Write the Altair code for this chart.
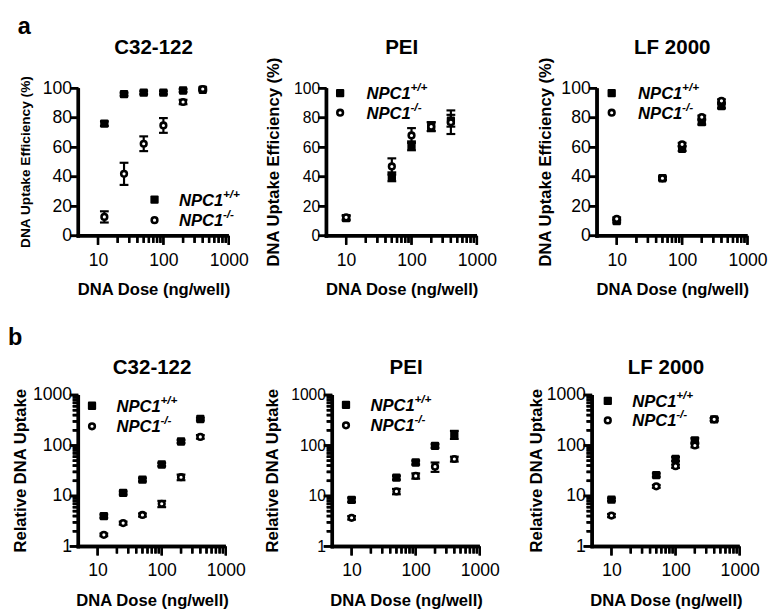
import math
import altair as alt
import pandas as pd

FONT = "Liberation Sans"

# ---------------- data ----------------
doses_c32 = [12.5, 25, 50, 100, 200, 400]
doses_other = [10, 50, 100, 200, 400]

# (a) DNA uptake efficiency (%)
a_c32_wt = [76, 96, 97, 97, 98.5, 99]
a_c32_wt_err = [1.5, 1, 1, 1, 1, 0.5]
a_c32_ko = [12.8, 42, 62.4, 74.8, 90.7, 99.5]
a_c32_ko_err = [3.8, 7.5, 5, 5, 1.5, 1]

a_pei_wt = [12, 40, 61, 74, 78]
a_pei_wt_err = [1.5, 3, 3, 3, 4]
a_pei_ko = [12.5, 47, 68, 74, 77]
a_pei_ko_err = [1.5, 5.5, 5, 3, 8]

a_lf_wt = [10, 39, 59, 77, 88]
a_lf_wt_err = [1, 1, 1.5, 1.5, 1.5]
a_lf_ko = [11.5, 39, 62, 80.5, 91.5]
a_lf_ko_err = [1, 1, 1, 1, 1]

# (b) relative DNA uptake
b_c32_wt = [4.0, 11.5, 21, 42, 120, 335]
b_c32_wt_err = [0.3, 0.8, 1.5, 3, 8, 20]
b_c32_ko = [1.7, 2.9, 4.2, 7.0, 23.5, 148]
b_c32_ko_err = [0.1, 0.2, 0.3, 1.0, 3, 12]

b_pei_wt = [8.4, 23, 46, 98, 165]
b_pei_wt_err = [0.8, 2, 4, 8, 30]
b_pei_ko = [3.7, 12.3, 25, 38, 54]
b_pei_ko_err = [0.3, 1.5, 3, 8, 6]

b_lf_wt = [8.5, 26, 54, 126, 330]
b_lf_wt_err = [0.5, 2, 5, 12, 20]
b_lf_ko = [4.1, 15.5, 39, 100, 330]
b_lf_ko_err = [0.3, 1, 3, 8, 20]

# axis ranges and tick positions
x_range = [5, 1000]
x_major = [10, 100, 1000]
x_minor = [20, 30, 40, 50, 60, 70, 80, 90, 200, 300, 400, 500, 600, 700, 800, 900]
y_lin_range = [0, 100]
y_lin_ticks = [0, 20, 40, 60, 80, 100]
y_log_range = [1, 1000]
y_log_major = [1, 10, 100, 1000]
y_log_minor = [2, 3, 4, 5, 6, 7, 8, 9, 20, 30, 40, 50, 60, 70, 80, 90,
               200, 300, 400, 500, 600, 700, 800, 900]

legend_labels = ["NPC1", "NPC1"]
legend_sups = ["+/+", "-/-"]

X_TITLE = "DNA Dose (ng/well)"
Y_TITLE_A = "DNA Uptake Efficiency (%)"
Y_TITLE_B = "Relative DNA Uptake"

SQUARE = "M-1,-0.75Q-1,-1,-0.75,-1L0.75,-1Q1,-1,1,-0.75L1,0.75Q1,1,0.75,1L-0.75,1Q-1,1,-1,0.75Z"
HLINE = "M-1,0L1,0"
VLINE = "M0,-1L0,1"

MX = 7   # room left of the y axis line for its ticks
MY = 8   # room below the x axis line for its ticks


def make_df(doses, vals, errs):
    return pd.DataFrame({
        "dose": doses,
        "val": vals,
        "lo": [v - e for v, e in zip(vals, errs)],
        "hi": [v + e for v, e in zip(vals, errs)],
    })


def text_layer(txt, x, y, size, weight="bold", style="normal", angle=0,
               align="left", baseline="middle"):
    return alt.Chart(pd.DataFrame({"t": [txt]})).mark_text(
        font=FONT, fontSize=size, fontWeight=weight, fontStyle=style, angle=angle,
        align=align, baseline=baseline, color="black").encode(
        x=alt.value(x), y=alt.value(y), text="t:N")


def panel(title, doses, wt, wt_err, ko, ko_err, log_y, Wd, Hd, leg,
          title_dy, ytitle_dx, lab_x=18, lab_y=17, ytitle_size=17, letter=None):
    W, H = Wd + MX, Hd + MY
    dec_x = Wd / math.log10(x_range[1] / x_range[0])

    def xoff(v, p):            # value p px to the right of v on the log x scale
        return v * 10 ** (p / dec_x)

    xs = alt.Scale(type="log", domain=[xoff(x_range[0], -MX), x_range[1]], nice=False)
    if log_y:
        yr = y_log_range
        dec_y = Hd / math.log10(yr[1] / yr[0])

        def yoff(v, p):        # value p px above v
            return v * 10 ** (p / dec_y)
        ys = alt.Scale(type="log", domain=[yoff(yr[0], -MY), yr[1]], nice=False)
        ylabels = y_log_major
        ytick_sets = [(y_log_major, 7), (y_log_minor, 4)]
    else:
        yr = y_lin_range
        upp = (yr[1] - yr[0]) / Hd

        def yoff(v, p):
            return v + p * upp
        ys = alt.Scale(domain=[yoff(yr[0], -MY), yr[1]], nice=False)
        ylabels = y_lin_ticks
        ytick_sets = [(y_lin_ticks, 6.5)]

    xaxis = alt.Axis(values=x_major, format="d", domain=False, ticks=False,
                     labelFontSize=lab_x, labelPadding=8, labelFlush=False,
                     labelOverlap=False, titleFontSize=17, titlePadding=13,
                     titleX=MX + Wd / 2, title=X_TITLE)
    yaxis = alt.Axis(values=ylabels, format="d", domain=False, ticks=False,
                     labelFontSize=lab_y, labelPadding=0, labelFlush=False,
                     labelOverlap=False, title=None)

    X = alt.X("dose:Q", scale=xs, axis=xaxis)
    layers = []

    wt_df = make_df(doses, wt, wt_err)
    ko_df = make_df(doses, ko, ko_err)
    for df in (wt_df, ko_df):
        base = alt.Chart(df)
        layers.append(base.mark_rule(color="black", strokeWidth=2.2).encode(
            x=X, y=alt.Y("lo:Q", scale=ys, axis=yaxis), y2="hi:Q"))
        for f in ("lo", "hi"):
            layers.append(base.mark_tick(color="black", orient="horizontal", size=9,
                                         thickness=2.2, opacity=1).encode(
                x=X, y=alt.Y(f + ":Q", scale=ys, axis=yaxis)))

    # axis lines and ticks, drawn through the scales
    x0, y0 = x_range[0], yr[0]
    seg = {"p0": [], "p1": [], "q0": [], "q1": []}
    hs = {"cx": [], "cy": [], "s": [], "w": []}   # horizontal strokes
    vs = {"cx": [], "cy": [], "s": [], "w": []}   # vertical strokes

    def add(p0, p1, q0, q1):
        seg["p0"].append(p0); seg["p1"].append(p1)
        seg["q0"].append(q0); seg["q1"].append(q1)

    def addh(cx, cy, length, w):
        hs["cx"].append(cx); hs["cy"].append(cy)
        hs["s"].append(length ** 2); hs["w"].append(w)

    def addv(cx, cy, length, w):
        vs["cx"].append(cx); vs["cy"].append(cy)
        vs["s"].append(length ** 2); vs["w"].append(w)

    # x axis line
    add(xoff(x0, -1.75), x_range[1], yoff(y0, -1.75), yoff(y0, 1.75))
    addh(xoff(x0, (Wd - 1.75) / 2), y0, Wd + 1.75, 3.5)
    # y axis line
    add(xoff(x0, -1.75), xoff(x0, 1.75), yoff(y0, -1.75), yr[1])
    addv(x0, yoff(y0, (Hd - 1.75) / 2), Hd + 1.75, 3.5)
    for vals, L in ((x_major, 7.5), (x_minor, 5.5)):
        for v in vals:
            add(xoff(v, -1.2), xoff(v, 1.2), y0, yoff(y0, -(L + 1.75)))
            addv(v, yoff(y0, -(L + 1.75) / 2), L + 1.75, 2.4)
    for vals, L in ytick_sets:
        for v in vals:
            add(x0, xoff(x0, -(L + 1.75)), yoff(v, -1.3), yoff(v, 1.3))
            addh(xoff(x0, -(L + 1.75) / 2), v, L + 1.75, 2.6)

    layers.append(alt.Chart(pd.DataFrame(seg)).mark_rect(color="black", opacity=1).encode(
        x=alt.X("p0:Q", scale=xs, axis=xaxis), x2="p1:Q",
        y=alt.Y("q0:Q", scale=ys, axis=yaxis), y2="q1:Q"))
    for d, shp in ((hs, HLINE), (vs, VLINE)):
        layers.append(alt.Chart(pd.DataFrame(d)).mark_point(
            shape=shp, filled=False, color="black", opacity=1, strokeCap="butt").encode(
            x=alt.X("cx:Q", scale=xs, axis=xaxis),
            y=alt.Y("cy:Q", scale=ys, axis=yaxis),
            size=alt.Size("s:Q", scale=None),
            strokeWidth=alt.StrokeWidth("w:Q", scale=None)))

    layers.append(alt.Chart(wt_df).mark_point(shape=SQUARE, filled=True, color="black",
                                              size=72, opacity=1).encode(
        x=X, y=alt.Y("val:Q", scale=ys, axis=yaxis)))
    layers.append(alt.Chart(ko_df).mark_point(shape="circle", filled=False, fill="white",
                                              stroke="black", strokeWidth=2.6, size=34,
                                              opacity=1, fillOpacity=1).encode(
        x=X, y=alt.Y("val:Q", scale=ys, axis=yaxis)))

    # legend (decoration)
    sx, sy1, sy2, tx = leg
    sx, tx = sx + MX, tx + MX
    one = pd.DataFrame({"k": [0]})
    layers.append(alt.Chart(one).mark_point(shape=SQUARE, filled=True, color="black",
                                            size=72, opacity=1).encode(
        x=alt.value(sx), y=alt.value(sy1)))
    layers.append(alt.Chart(one).mark_point(shape="circle", filled=False, fill="white",
                                            stroke="black", strokeWidth=2.6, size=34,
                                            opacity=1, fillOpacity=1).encode(
        x=alt.value(sx), y=alt.value(sy2)))
    for i, yy in enumerate((sy1, sy2)):
        layers.append(text_layer(legend_labels[i], tx, yy + 1, 17, style="italic"))
        layers.append(text_layer(legend_sups[i], tx + 45, yy - 6, 12, style="italic"))

    # panel title, y-axis title, panel letter
    layers.append(text_layer(title, MX + Wd / 2, -title_dy, 21, align="center"))
    layers.append(text_layer(Y_TITLE_B if log_y else Y_TITLE_A, MX + ytitle_dx, Hd / 2,
                             ytitle_size, angle=270, align="center"))
    if letter is not None:
        lx, ly, lt = letter
        layers.append(text_layer(lt, MX + lx, ly, 24, align="left", baseline="top"))

    return alt.layer(*layers).properties(width=W, height=H)


a1 = panel("C32-122", doses_c32, a_c32_wt, a_c32_wt_err, a_c32_ko, a_c32_ko_err,
           False, 154, 151, (78, 114, 135, 103), 41, -53, lab_y=18, ytitle_size=14,
           letter=(-62, -75, "a"))
a2 = panel("PEI", doses_other, a_pei_wt, a_pei_wt_err, a_pei_ko, a_pei_ko_err,
           False, 154, 151, (14, 5, 25, 41), 41, -54, lab_y=16)
a3 = panel("LF 2000", doses_other, a_lf_wt, a_lf_wt_err, a_lf_ko, a_lf_ko_err,
           False, 154, 151, (15, 5, 25, 42), 41, -52, lab_y=18)

b1 = panel("C32-122", doses_c32, b_c32_wt, b_c32_wt_err, b_c32_ko, b_c32_ko_err,
           True, 151, 155, (14, 11, 32, 39), 28, -59, lab_y=18,
           letter=(-72, -70, "b"))
b2 = panel("PEI", doses_other, b_pei_wt, b_pei_wt_err, b_pei_ko, b_pei_ko_err,
           True, 151, 155, (14, 10, 31, 39), 28, -61, lab_y=16)
b3 = panel("LF 2000", doses_other, b_lf_wt, b_lf_wt_err, b_lf_ko, b_lf_ko_err,
           True, 151, 155, (16, 6, 26, 41), 28, -56, lab_y=18)

row_a = alt.hconcat(a1, alt.hconcat(a2, a3, spacing=40), spacing=15)
row_b = alt.hconcat(b1, alt.hconcat(b2, b3, spacing=29), spacing=18)

chart = alt.vconcat(row_a, row_b, spacing=30).properties(
    padding={"left": 0, "top": 0, "right": 0, "bottom": 0}
).configure_view(stroke=None).configure_axis(
    grid=False, labelFont=FONT, titleFont=FONT, labelColor="black", titleColor="black",
    titleFontWeight="bold", labelFontWeight="normal"
)

chart.save("out.html", embed_options={"renderer": "svg", "actions": False})
